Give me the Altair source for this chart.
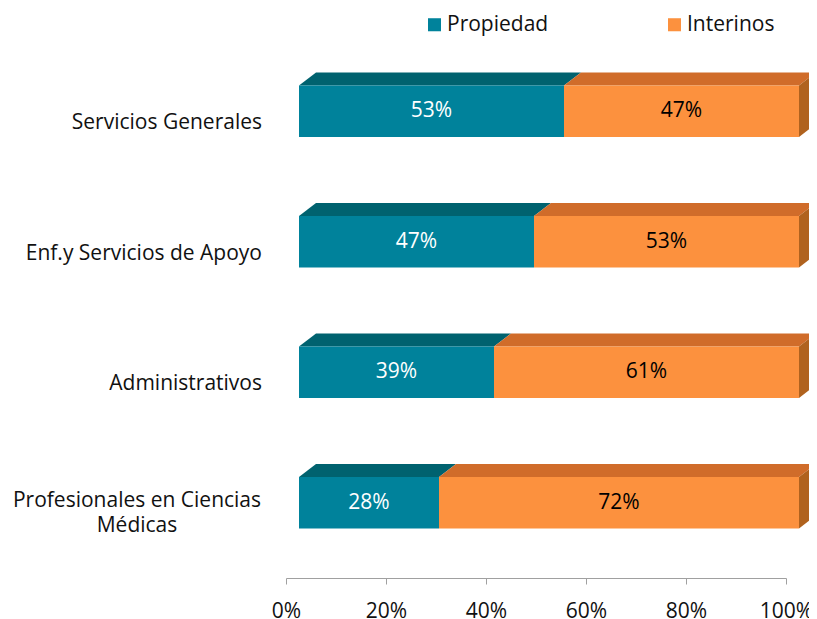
import altair as alt
import pandas as pd

categories = [
    "Servicios Generales",
    "Enf.y Servicios de Apoyo",
    "Administrativos",
    "Profesionales en Ciencias\nMédicas",
]
series = ["Propiedad", "Interinos"]
propiedad = [53, 47, 39, 28]
interinos = [47, 53, 61, 72]
tick_values = [0, 0.2, 0.4, 0.6, 0.8, 1.0]

front_colors = ["#00829B", "#FC913E"]
top_colors = ["#00626F", "#D06C2A"]
text_colors = ["#FFFFFF", "#000000"]
side_color = "#B0621E"

# 3D geometry (pixel sizes converted to scale units)
ROW_PX = 130.5
PLOT_W = 500
HALF = 25.75 / ROW_PX
DEPTH_Y = 13 / ROW_PX
DEPTH_X = 17 / PLOT_W
SHIFT_PX = 13
SHIFT_X = SHIFT_PX / PLOT_W
FONT = "Open Sans"

seg_rows, top_rows, side_rows, cat_rows = [], [], [], []
for i, cat in enumerate(categories):
    start = 0.0
    for s, vals in zip(series, [propiedad, interinos]):
        v = vals[i] / 100
        end = start + v
        seg_rows.append(dict(cat=cat, row=i, serie=s, x0=start, x1=end,
                             xm=(start + end) / 2, ya=i - HALF, yb=i + HALF,
                             label=f"{vals[i]}%"))
        yf = i - HALF
        yk = yf - DEPTH_Y
        a = start + SHIFT_X
        b = end + SHIFT_X
        pts = [(a, yf, yf), (a + DEPTH_X, yk, yf), (b, yk, yf), (b + DEPTH_X, yk, yk)]
        for k, (px, py, py2) in enumerate(pts):
            top_rows.append(dict(seg=f"s{i}{s}", serie=s, px=px, ptop=py, pbot=py2, k=k))
        start = end
    r = 1.0 + SHIFT_X
    side_rows.append(dict(seg=f"r{i}", px=r, ptop=i - HALF, pbot=i + HALF, k=0))
    side_rows.append(dict(seg=f"r{i}", px=r + DEPTH_X, ptop=i - HALF - DEPTH_Y,
                          pbot=i + HALF - DEPTH_Y, k=1))
    cat_rows.append(dict(cat=cat, row=i, x=0.0, multi=int("\n" in cat)))

seg_df = pd.DataFrame(seg_rows)
top_df = pd.DataFrame(top_rows)
side_df = pd.DataFrame(side_rows)
cat_df = pd.DataFrame(cat_rows)

xs = alt.Scale(domain=[0, 1], nice=False, zero=False)
ys = alt.Scale(domain=[-0.5, 3.5], reverse=True, nice=False, zero=False)

bars = alt.Chart(seg_df).mark_rect(xOffset=SHIFT_PX, x2Offset=SHIFT_PX).encode(
    x=alt.X("x0:Q", scale=xs, axis=alt.Axis(
        values=tick_values, format=".0%", title=None, grid=False, offset=10,
        domainColor="#A0A0A0", tickColor="#A0A0A0", tickSize=6,
        labelFontSize=21, labelColor="#111111", labelPadding=16,
        labelFlush=False, labelOverlap=False, labelFont=FONT)),
    x2="x1:Q",
    y=alt.Y("ya:Q", scale=ys, axis=None),
    y2="yb:Q",
    color=alt.Color("serie:N", scale=alt.Scale(domain=series, range=front_colors),
                    legend=alt.Legend(title=None, orient="none", legendX=138, legendY=-32,
                                      direction="horizontal", symbolType="square",
                                      symbolSize=170, symbolStrokeWidth=0,
                                      labelFontSize=21, labelColor="#111111",
                                      labelFont=FONT, labelOffset=2, columnPadding=115)),
)


def area_layer(df, col):
    return alt.Chart(df).mark_area(color=col).encode(
        x=alt.X("px:Q", scale=xs),
        y=alt.Y("ptop:Q", scale=ys, stack=None, axis=None),
        y2="pbot:Q",
        detail="seg:N",
    )


tops = [area_layer(top_df[top_df.serie == s], c) for s, c in zip(series, top_colors)]
sides = area_layer(side_df, side_color)


def value_layer(s, col):
    return alt.Chart(seg_df).transform_filter(alt.datum.serie == s).mark_text(
        xOffset=SHIFT_PX, fontSize=21, font=FONT, baseline="middle", align="center", color=col
    ).encode(
        x=alt.X("xm:Q", scale=xs),
        y=alt.Y("row:Q", scale=ys),
        text="label:N",
    )


values = [value_layer(s, c) for s, c in zip(series, text_colors)]

cat_single = alt.Chart(cat_df).transform_filter(alt.datum.multi == 0).mark_text(
    align="right", baseline="middle", dx=-24, dy=12, fontSize=21, font=FONT, color="#111111"
).encode(x=alt.X("x:Q", scale=xs), y=alt.Y("row:Q", scale=ys), text="cat:N")

cat_multi = alt.Chart(cat_df).transform_filter(alt.datum.multi == 1).mark_text(
    align="center", baseline="middle", dx=-149, dy=-2, fontSize=21, font=FONT, color="#111111",
    lineBreak="\n", lineHeight=25
).encode(x=alt.X("x:Q", scale=xs), y=alt.Y("row:Q", scale=ys), text="cat:N")

chart = alt.layer(*tops, sides, bars, *values, cat_single, cat_multi).properties(
    width=PLOT_W, height=522,
    autosize=alt.AutoSizeParams(type="none"),
    padding={"left": 278, "top": 38, "right": 23, "bottom": 62},
).configure(font=FONT).configure_view(stroke=None)

chart.save("out.html", embed_options={"renderer": "svg", "actions": False})
